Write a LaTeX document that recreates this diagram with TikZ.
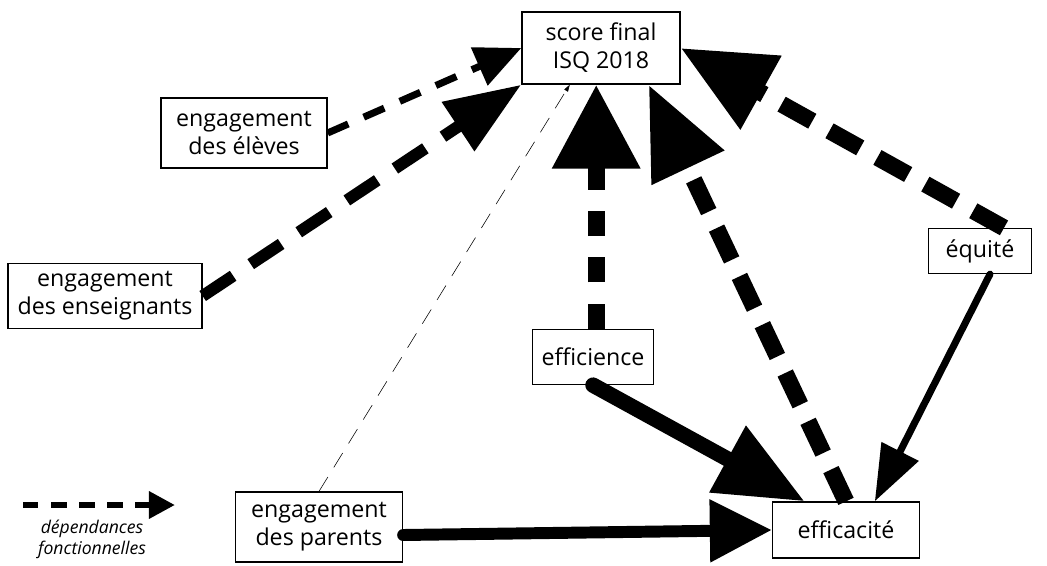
\documentclass[tikz,border=0pt]{standalone}
\usepackage{fontspec}
\setmainfont{Open Sans}
\usetikzlibrary{arrows.meta}

\begin{document}
\begin{tikzpicture}[x=0.025cm, y=-0.025cm,
    %Option for boxes and arrows
    box/.style={draw, line width=0.9pt, align=center, inner sep=0pt,
        font=\fontsize{16.5}{20}\selectfont},
    dep/.style={line width=#1},
    tip/.style 2 args={-{Triangle[length=#1, width=#2]}},
]
    \useasboundingbox (0,0) rectangle (1047,566);

    % Boxes
    \node[box, minimum width=3.95cm,  minimum height=1.8cm]   (score)   at (601,48)  {score final\\ISQ 2018};
    \node[box, minimum width=4.15cm,  minimum height=1.75cm]  (eleves)  at (244,133) {engagement\\des élèves};
    \node[box, minimum width=4.85cm,  minimum height=1.625cm] (enseign) at (105,296) {engagement\\des enseignants};
    \node[box, minimum width=3.025cm, minimum height=1.375cm] (efficience) at (593,357) {efficience};
    \node[box, minimum width=2.575cm, minimum height=1.125cm] (equite)  at (980,251) {équité};
    \node[box, minimum width=4.175cm, minimum height=1.75cm]  (parents) at (319,527) {engagement\\des parents};
    \node[box, minimum width=3.675cm, minimum height=1.4cm]   (efficacite) at (846,530) {efficacité};

    % Functional dependencies (dashed)
    \draw[dep=5pt, dash pattern=on 16pt off 12pt, tip={1.15cm}{1.0cm}] (eleves.east) -- (score.west);
    \draw[dep=8.5pt, dash pattern=on 26pt off 15pt, tip={1.9cm}{1.4cm}] (enseign.east) -- (score.south west);
    \draw[thin, dash pattern=on 12pt off 8pt, -{Triangle[length=5pt, width=3pt]}]
        (parents.north) -- ([xshift=-0.78cm]score.south);
    \draw[dep=12pt, dash pattern=on 18pt off 15pt, tip={2.1cm}{2.1cm}]
        ([xshift=0.08cm]efficience.north) -- ([xshift=0.08cm]efficience.north |- score.south);
    \draw[dep=12pt, dash pattern=on 25pt off 13pt, tip={2.3cm}{1.9cm}]
        (efficacite.north) -- ([xshift=-0.8cm]score.south east);
    \draw[dep=12pt, dash pattern=on 25pt off 14pt, tip={2.3cm}{2.0cm}]
        ([xshift=0.6cm]equite.north) -- (score.east);

    % Direct effects (solid)
    \draw[line width=11pt, line cap=round, tip={2.2cm}{1.8cm}]
        (efficience.south) -- ([xshift=0.82cm]efficacite.north west);
    \draw[line width=5pt, line cap=round, tip={1.4cm}{1.0cm}]
        ([xshift=0.25cm]equite.south) -- ([xshift=0.72cm]efficacite.north);
    \draw[line width=8.5pt, line cap=round, tip={1.55cm}{1.5cm}]
        ([yshift=-0.2cm]parents.east) -- (efficacite.west);

    % Legend
    \coordinate (leg1) at (23,505);
    \coordinate (leg2) at (175,505);
    \draw[line width=4.5pt, dash pattern=on 11pt off 9pt, tip={0.65cm}{0.65cm}] (leg1) -- (leg2);
    \node[font=\fontsize{12.5}{14.5}\selectfont\itshape, align=center, inner sep=0pt, anchor=north]
        (legtext) at (92,520) {dépendances\\fonctionnelles};
\end{tikzpicture}
\end{document}
